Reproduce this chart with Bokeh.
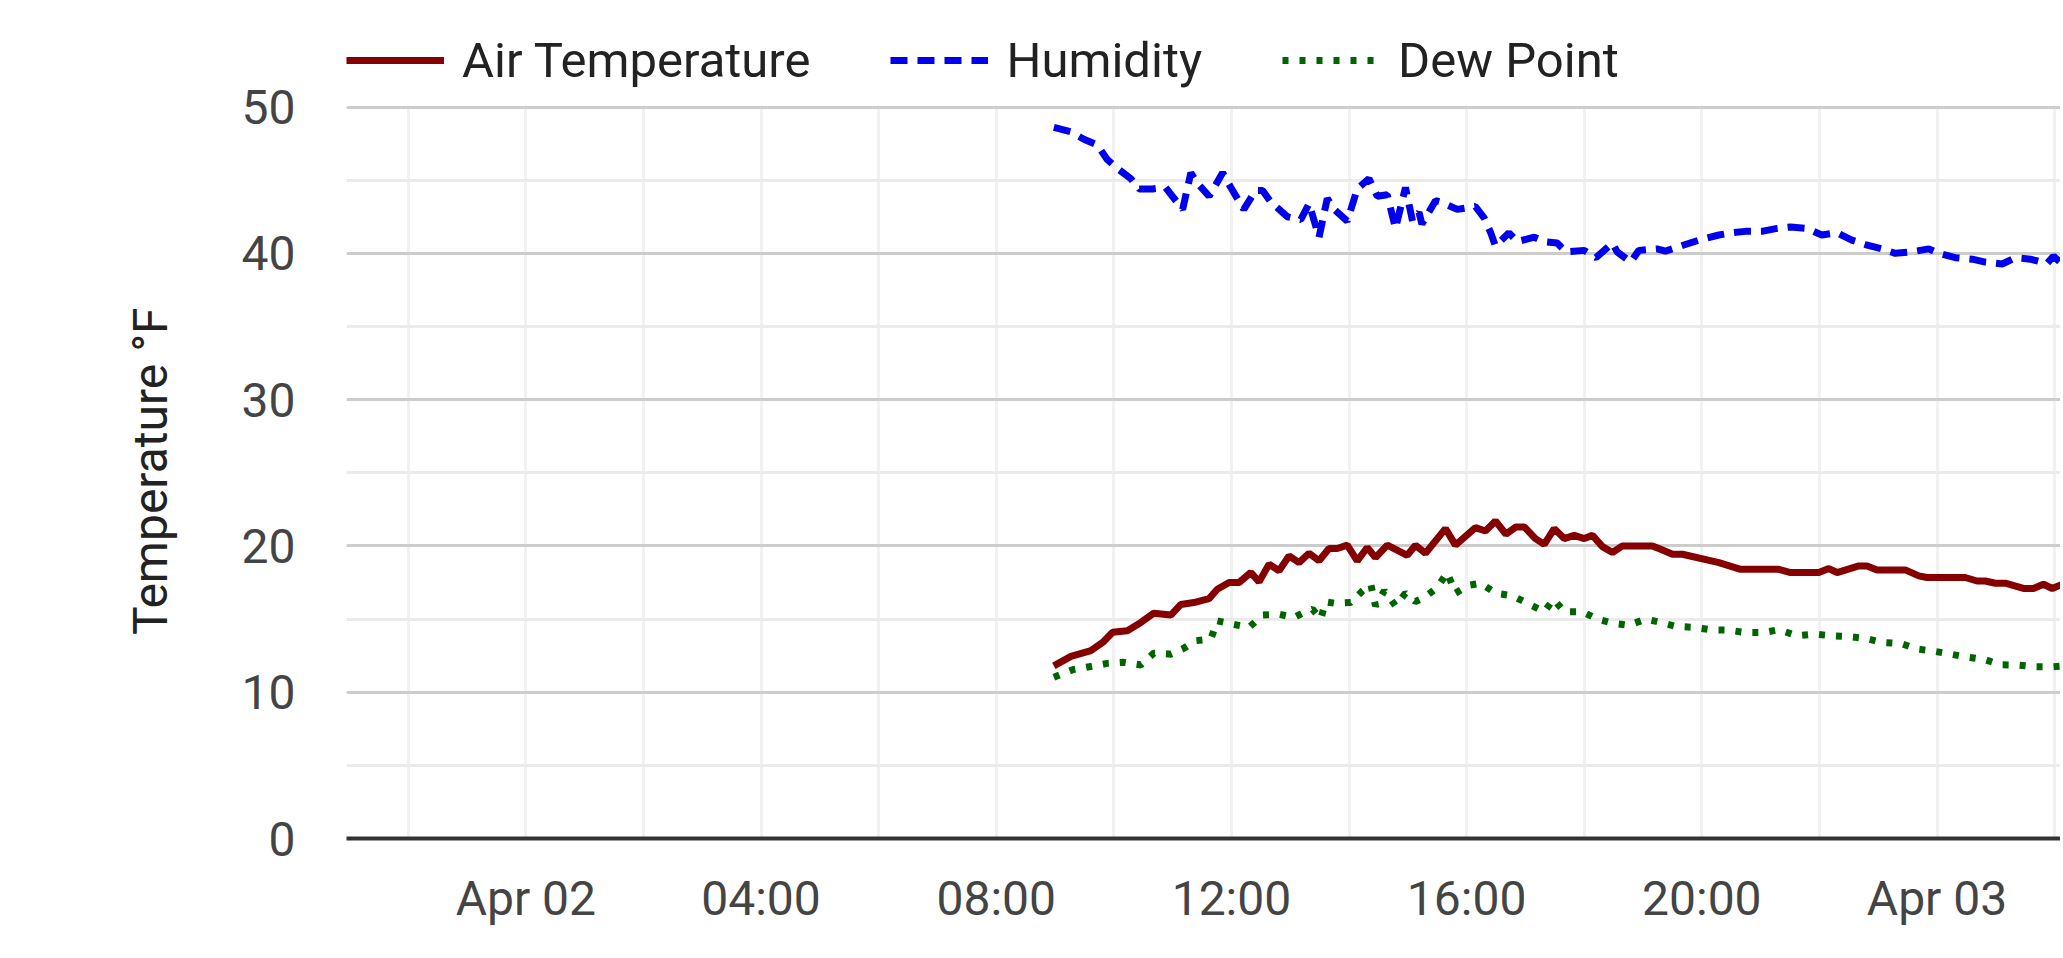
import pandas as pd
from bokeh.plotting import figure
from bokeh.models import (Range1d, SingleIntervalTicker, FixedTicker, CustomJSTickFormatter,
                          Legend, LegendItem, ColumnDataSource, BoxAnnotation)
from bokeh.embed import file_html
from bokeh.resources import INLINE

# ---------------- data (hours after Apr 02 00:00, values) ----------------
base_day = "2024-04-02"

temp_hours = [8.98, 9.27, 9.61, 9.81, 9.98, 10.23, 10.46, 10.68, 10.97, 11.14, 11.36, 11.62,
              11.76, 11.96, 12.13, 12.33, 12.47, 12.64, 12.81, 12.98, 13.15, 13.32, 13.49,
              13.66, 13.8, 13.97, 14.14, 14.31, 14.45, 14.65, 14.99, 15.13, 15.3, 15.64,
              15.81, 16.15, 16.32, 16.49, 16.67, 16.84, 16.98, 17.17, 17.32, 17.49, 17.66,
              17.83, 18.0, 18.14, 18.31, 18.48, 18.65, 19.16, 19.3, 19.5, 19.67, 20.29,
              20.66, 21.31, 21.51, 21.99, 22.16, 22.3, 22.67, 22.81, 22.98, 23.46, 23.69,
              23.83, 24.48, 24.68, 24.82, 24.99, 25.16, 25.47, 25.64, 25.81, 25.96, 26.16]
temp_values = [11.8, 12.45, 12.84, 13.4, 14.1, 14.2, 14.77, 15.4, 15.27, 16.0, 16.13, 16.4,
               17.04, 17.5, 17.5, 18.18, 17.54, 18.75, 18.3, 19.32, 18.86, 19.5, 18.98,
               19.82, 19.82, 20.05, 18.98, 19.89, 19.2, 20.05, 19.36, 20.05, 19.5, 21.18,
               20.05, 21.25, 21.02, 21.7, 20.8, 21.3, 21.3, 20.5, 20.1, 21.18, 20.5,
               20.72, 20.5, 20.72, 19.95, 19.55, 20.0, 20.0, 19.77, 19.43, 19.43, 18.86,
               18.4, 18.4, 18.18, 18.18, 18.45, 18.18, 18.63, 18.63, 18.36, 18.36, 17.95,
               17.84, 17.84, 17.6, 17.6, 17.45, 17.45, 17.09, 17.09, 17.38, 17.09, 17.43]

hum_hours = [8.98, 9.27, 9.49, 9.72, 9.89, 10.06, 10.29, 10.43, 10.66, 10.88, 11.17, 11.31,
             11.42, 11.62, 11.85, 11.99, 12.21, 12.41, 12.53, 12.67, 12.95, 13.18, 13.32,
             13.49, 13.63, 13.75, 13.97, 14.14, 14.34, 14.48, 14.65, 14.79, 14.96, 15.08,
             15.19, 15.24, 15.47, 15.56, 15.84, 16.15, 16.3, 16.41, 16.49, 16.72, 16.86,
             17.15, 17.32, 17.54, 17.69, 18.0, 18.2, 18.48, 18.56, 18.79, 18.93, 19.24,
             19.38, 19.72, 19.95, 20.29, 20.51, 20.74, 21.02, 21.28, 21.51, 21.79, 22.04,
             22.3, 22.55, 22.78, 23.06, 23.29, 23.57, 23.86, 24.03, 24.31, 24.6, 24.82,
             25.11, 25.33, 25.59, 25.87, 25.98, 26.12]
hum_values = [48.6, 48.3, 47.8, 47.4, 46.4, 45.8, 45.1, 44.4, 44.4, 44.5, 43.0, 45.5,
              44.8, 43.9, 45.5, 44.5, 43.0, 44.3, 44.3, 43.5, 42.5, 42.3, 43.4,
              41.1, 43.75, 43.0, 42.2, 44.4, 45.1, 43.9, 44.0, 41.7, 44.5, 42.2,
              42.8, 42.0, 43.6, 43.5, 43.0, 43.2, 42.4, 41.4, 40.5, 41.4, 40.8,
              41.1, 40.8, 40.7, 40.1, 40.2, 39.7, 40.7, 40.1, 39.4, 40.2, 40.3,
              40.15, 40.6, 40.9, 41.25, 41.4, 41.5, 41.5, 41.7, 41.8, 41.7, 41.25,
              41.4, 40.9, 40.6, 40.3, 40.0, 40.1, 40.3, 40.0, 39.7, 39.6, 39.4,
              39.27, 39.7, 39.6, 39.3, 39.8, 39.3]

dew_hours = [8.98, 9.3, 9.58, 9.89, 10.17, 10.46, 10.68, 10.97, 11.19, 11.39, 11.65, 11.76,
             12.02, 12.3, 12.53, 12.81, 13.06, 13.23, 13.38, 13.52, 13.6, 13.77, 14.03,
             14.23, 14.37, 14.45, 14.6, 14.79, 14.96, 15.13, 15.28, 15.5, 15.67, 15.81,
             16.04, 16.24, 16.49, 16.78, 17.03, 17.32, 17.48, 17.66, 17.97, 18.22, 18.48,
             18.76, 19.05, 19.3, 19.56, 19.87, 20.15, 20.46, 20.74, 21.05, 21.31, 21.62,
             21.9, 22.21, 22.5, 22.78, 23.06, 23.38, 23.66, 23.95, 24.23, 24.51, 24.8,
             25.08, 25.36, 25.67, 25.96, 26.16]
dew_values = [11.02, 11.54, 11.74, 11.97, 12.04, 11.86, 12.67, 12.6, 13.0, 13.52, 13.63, 14.88,
              14.65, 14.43, 15.27, 15.33, 15.1, 15.45, 15.67, 15.0, 16.18, 16.07, 16.13,
              16.93, 17.38, 15.9, 16.93, 15.9, 16.77, 16.2, 16.47, 17.15, 18.18, 16.77,
              17.31, 17.45, 16.77, 16.59, 16.08, 15.5, 16.36, 15.5, 15.5, 15.0, 14.72,
              14.58, 15.0, 14.77, 14.5, 14.43, 14.27, 14.24, 14.08, 14.08, 14.27, 13.86,
              13.97, 13.86, 13.8, 13.68, 13.4, 13.34, 12.95, 12.8, 12.6, 12.4, 12.25,
              11.87, 11.86, 11.74, 11.74, 11.8]

series_names = ["Air Temperature", "Humidity", "Dew Point"]
y_title = "Temperature °F"
y_major_ticks = [0, 10, 20, 30, 40, 50]
y_minor_ticks = [5, 15, 25, 35, 45]
x_window_hours = [-3.05, 26.1]
y_axis_max = 50

# ---------------- build ----------------
t0 = pd.Timestamp(base_day)


def to_time(hours):
    return t0 + pd.to_timedelta(hours, unit="h")


src_temp = ColumnDataSource(dict(t=to_time(temp_hours), v=temp_values))
src_hum = ColumnDataSource(dict(t=to_time(hum_hours), v=hum_values))
src_dew = ColumnDataSource(dict(t=to_time(dew_hours), v=dew_values))

W, H = 2060, 955
FRAME_TOP, FRAME_BOTTOM, FRAME_LEFT = 20, 838, 346
PX_PER_UNIT = 14.63          # pixel height of one degree (layout constant)
y_top = (FRAME_BOTTOM - FRAME_TOP) / PX_PER_UNIT   # room above 50 holds the legend

p = figure(width=W, height=H, x_axis_type="datetime", output_backend="svg",
           toolbar_location=None,
           x_range=Range1d(to_time(x_window_hours[0]), to_time(x_window_hours[1])),
           y_range=Range1d(0, y_top),
           min_border_left=FRAME_LEFT, min_border_right=0, min_border_top=FRAME_TOP,
           min_border_bottom=H - FRAME_BOTTOM)
p.outline_line_color = None
p.background_fill_color = "white"
p.border_fill_color = "white"

FONT = "Roboto"
HOUR_MS = 3600 * 1000

# x axis
p.xaxis.ticker = SingleIntervalTicker(interval=4 * HOUR_MS, num_minor_ticks=2)
p.xaxis.formatter = CustomJSTickFormatter(code="""
const d = new Date(tick);
const h = d.getUTCHours();
const pad = (n) => (n < 10 ? "0" : "") + n;
const months = ["Jan","Feb","Mar","Apr","May","Jun","Jul","Aug","Sep","Oct","Nov","Dec"];
if (h === 0) { return months[d.getUTCMonth()] + " " + pad(d.getUTCDate()); }
return pad(h) + ":00";
""")
p.xaxis.axis_line_color = "#333333"
p.xaxis.axis_line_width = 4
p.xaxis.major_tick_line_color = None
p.xaxis.minor_tick_line_color = None
p.xaxis.major_label_standoff = 25
p.xaxis.major_label_text_font = FONT
p.xaxis.major_label_text_font_size = "48px"
p.xaxis.major_label_text_color = "#444444"

# y axis
p.yaxis.ticker = FixedTicker(ticks=y_major_ticks, minor_ticks=y_minor_ticks)
p.yaxis.bounds = (0, y_axis_max)
p.yaxis.axis_line_color = None
p.yaxis.major_tick_line_color = None
p.yaxis.minor_tick_line_color = None
p.yaxis.major_label_standoff = 45
p.yaxis.major_label_text_font = FONT
p.yaxis.major_label_text_font_size = "48px"
p.yaxis.major_label_text_color = "#444444"
# trailing no-break spaces re-centre the title on the 0-50 span (frame also holds the legend)
p.yaxis.axis_label = y_title + "\u00a0" * 7
p.yaxis.axis_label_text_font = FONT
p.yaxis.axis_label_text_font_size = "48px"
p.yaxis.axis_label_text_font_style = "normal"
p.yaxis.axis_label_text_color = "#222222"
p.yaxis.axis_label_standoff = 60

# grids
p.xgrid.grid_line_color = "#f1f1f1"
p.xgrid.grid_line_width = 3
p.xgrid.minor_grid_line_color = "#f1f1f1"
p.xgrid.minor_grid_line_width = 3
p.ygrid.grid_line_color = "#cccccc"
p.ygrid.grid_line_width = 3
p.ygrid.minor_grid_line_color = "#ebebeb"
p.ygrid.minor_grid_line_width = 3

# keep the vertical grid below the 50 line
cover = BoxAnnotation(bottom=y_axis_max + 0.11, fill_color="white", fill_alpha=1.0,
                      line_color=None, level="underlay")
p.add_layout(cover)

# lines
r_temp = p.line("t", "v", source=src_temp, line_color="#850000", line_width=7)
r_hum = p.line("t", "v", source=src_hum, line_color="#0000ee", line_width=7,
               line_dash="17 10")
r_dew = p.line("t", "v", source=src_dew, line_color="#006400", line_width=7,
               line_dash="6 11")

legend = Legend(items=[LegendItem(label=series_names[0], renderers=[r_temp]),
                       LegendItem(label=series_names[1], renderers=[r_hum]),
                       LegendItem(label=series_names[2], renderers=[r_dew])],
                orientation="horizontal", location="top_left",
                glyph_width=98, glyph_height=80, label_standoff=18, spacing=80,
                padding=0, margin=0, border_line_color=None, background_fill_alpha=0,
                label_text_font=FONT, label_text_font_size="49px",
                label_text_color="#222222")
p.add_layout(legend, "center")

open("out.html", "w").write(file_html(p, INLINE))
